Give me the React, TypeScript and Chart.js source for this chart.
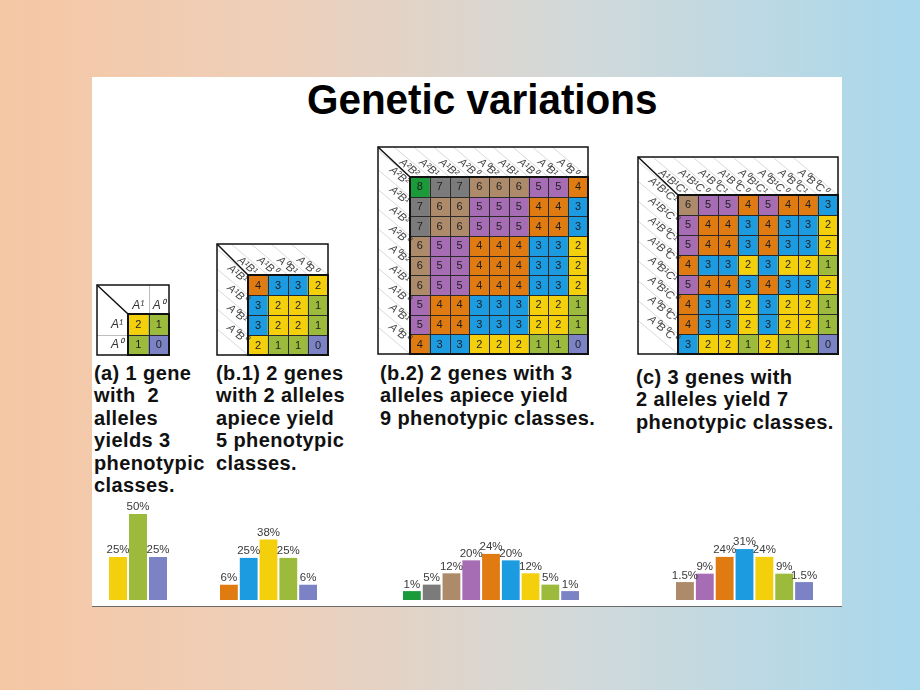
import React, { useEffect, useRef } from "react";
import { Chart, registerables } from "chart.js";
Chart.register(...registerables);

// ---------- colours per phenotypic class (number of "1/2" alleles) ----------
const CLASS_COLORS = [
  "#7b83c4", // 0 periwinkle
  "#9cba3c", // 1 olive
  "#f3cf0c", // 2 yellow
  "#1d9be0", // 3 blue
  "#e07b12", // 4 orange
  "#a66cb4", // 5 purple
  "#ad8b6a", // 6 tan
  "#7b7b7b", // 7 gray
  "#1b9a3a", // 8 green
];

// ---------- grid (a) ----------
const gridACols = ["A¹", "A⁰"];
const gridARows = ["A¹", "A⁰"];
const gridAValues = [
  [2, 1],
  [1, 0],
];

// ---------- grid (b.1) ----------
const gridB1Cols = ["A¹B¹", "A¹B⁰", "A⁰B¹", "A⁰B⁰"];
const gridB1Rows = ["A¹B¹", "A¹B⁰", "A⁰B¹", "A⁰B⁰"];
const gridB1Values = [
  [4, 3, 3, 2],
  [3, 2, 2, 1],
  [3, 2, 2, 1],
  [2, 1, 1, 0],
];

// ---------- grid (b.2) ----------
const gridB2Cols = ["A²B²", "A²B¹", "A¹B²", "A²B⁰", "A⁰B²", "A¹B¹", "A¹B⁰", "A⁰B¹", "A⁰B⁰"];
const gridB2Rows = ["A²B²", "A²B¹", "A¹B²", "A²B⁰", "A⁰B²", "A¹B¹", "A¹B⁰", "A⁰B¹", "A⁰B⁰"];
const gridB2Values = [
  [8, 7, 7, 6, 6, 6, 5, 5, 4],
  [7, 6, 6, 5, 5, 5, 4, 4, 3],
  [7, 6, 6, 5, 5, 5, 4, 4, 3],
  [6, 5, 5, 4, 4, 4, 3, 3, 2],
  [6, 5, 5, 4, 4, 4, 3, 3, 2],
  [6, 5, 5, 4, 4, 4, 3, 3, 2],
  [5, 4, 4, 3, 3, 3, 2, 2, 1],
  [5, 4, 4, 3, 3, 3, 2, 2, 1],
  [4, 3, 3, 2, 2, 2, 1, 1, 0],
];

// ---------- grid (c) ----------
const gridCCols = ["A¹B¹C¹", "A¹B¹C⁰", "A¹B⁰C¹", "A¹B⁰C⁰", "A⁰B¹C¹", "A⁰B¹C⁰", "A⁰B⁰C¹", "A⁰B⁰C⁰"];
const gridCRows = ["A¹B¹C¹", "A¹B¹C⁰", "A¹B⁰C¹", "A¹B⁰C⁰", "A⁰B¹C¹", "A⁰B¹C⁰", "A⁰B⁰C¹", "A⁰B⁰C⁰"];
const gridCValues = [
  [6, 5, 5, 4, 5, 4, 4, 3],
  [5, 4, 4, 3, 4, 3, 3, 2],
  [5, 4, 4, 3, 4, 3, 3, 2],
  [4, 3, 3, 2, 3, 2, 2, 1],
  [5, 4, 4, 3, 4, 3, 3, 2],
  [4, 3, 3, 2, 3, 2, 2, 1],
  [4, 3, 3, 2, 3, 2, 2, 1],
  [3, 2, 2, 1, 2, 1, 1, 0],
];

// ---------- distributions (bar charts) ----------
const barsAClasses = [2, 1, 0];
const barsAPercent = [25, 50, 25];

const barsB1Classes = [4, 3, 2, 1, 0];
const barsB1Percent = [6, 25, 38, 25, 6];

const barsB2Classes = [8, 7, 6, 5, 4, 3, 2, 1, 0];
const barsB2Percent = [1, 5, 12, 20, 24, 20, 12, 5, 1];

const barsCClasses = [6, 5, 4, 3, 2, 1, 0];
const barsCPercent = [1.5, 9, 24, 31, 24, 9, 1.5];

// ---------- captions ----------
const captionA = "(a) 1 gene\nwith  2\nalleles\nyields 3\nphenotypic\nclasses.";
const captionB1 = "(b.1) 2 genes\nwith 2 alleles\napiece yield\n5 phenotypic\nclasses.";
const captionB2 = "(b.2) 2 genes with 3\nalleles apiece yield\n9 phenotypic classes.";
const captionC = "(c) 3 genes with\n2 alleles yield 7\nphenotypic classes.";

const FONT = '"Liberation Sans", Arial, Helvetica, sans-serif';

type Box = { l: number; t: number; r: number; b: number; gl: number; gt: number };

function GridChart(props: {
  cols: string[];
  rows: string[];
  values: number[][];
  box: Box;
  upright?: boolean;
}) {
  const { cols, rows, values, box, upright } = props;
  const ref = useRef<HTMLCanvasElement>(null);
  const PAD = 3;
  const W = box.r - box.l + 2 * PAD;
  const H = box.b - box.t + 2 * PAD;

  useEffect(() => {
    const th = (40 * Math.PI) / 180;
    const deco = {
      id: "gridDeco",
      afterDatasetsDraw(chart: any) {
        const ctx = chart.ctx as CanvasRenderingContext2D;
        const a = chart.chartArea;
        const oL = PAD, oT = PAD, oR = chart.width - PAD, oB = chart.height - PAD;
        const gL = a.left, gT = a.top, gR = a.right, gB = a.bottom;
        const nC = cols.length, nR = rows.length;
        const cw = (gR - gL) / nC, rh = (gB - gT) / nR;
        ctx.save();
        ctx.fillStyle = "#ffffff";
        ctx.fillRect(oL, oT, oR - oL, gT - oT);
        ctx.fillRect(oL, oT, gL - oL, oB - oT);

        if (upright) {
          ctx.strokeStyle = "#bdbdbd";
          ctx.lineWidth = 1;
          for (let i = 1; i < nC; i++) {
            const xb = Math.round(gL + i * cw) + 0.5;
            ctx.beginPath(); ctx.moveTo(xb, oT); ctx.lineTo(xb, gT); ctx.stroke();
          }
          for (let j = 1; j < nR; j++) {
            const yb = Math.round(gT + j * rh) + 0.5;
            ctx.beginPath(); ctx.moveTo(oL, yb); ctx.lineTo(gL, yb); ctx.stroke();
          }
          ctx.fillStyle = "#333";
          ctx.font = "italic 12px " + FONT;
          ctx.textAlign = "center";
          ctx.textBaseline = "bottom";
          cols.forEach((c, i) => ctx.fillText(c, gL + (i + 0.5) * cw, gT - 2));
          ctx.textAlign = "right";
          ctx.textBaseline = "middle";
          rows.forEach((r, j) => ctx.fillText(r, gL - 5, gT + (j + 0.5) * rh));
        } else {
          // hatch lines in top band
          ctx.save();
          ctx.beginPath();
          ctx.moveTo(oL, oT); ctx.lineTo(oR, oT); ctx.lineTo(oR, gT); ctx.lineTo(gL, gT);
          ctx.closePath(); ctx.clip();
          ctx.strokeStyle = "#cfcfcf"; ctx.lineWidth = 0.8;
          for (let i = 0; i <= nC; i++) {
            const xb = gL + i * cw;
            ctx.beginPath(); ctx.moveTo(xb, gT); ctx.lineTo(xb - (gT - oT) / Math.tan(th), oT); ctx.stroke();
          }
          ctx.restore();
          // hatch lines in left band
          ctx.save();
          ctx.beginPath();
          ctx.moveTo(oL, oT); ctx.lineTo(gL, gT); ctx.lineTo(gL, oB); ctx.lineTo(oL, oB);
          ctx.closePath(); ctx.clip();
          ctx.strokeStyle = "#cfcfcf"; ctx.lineWidth = 0.8;
          for (let j = 0; j <= nR; j++) {
            const yb = gT + j * rh;
            ctx.beginPath(); ctx.moveTo(gL, yb); ctx.lineTo(oL, yb - (gL - oL) * Math.tan(th)); ctx.stroke();
          }
          ctx.restore();
          // labels
          ctx.fillStyle = "#444";
          ctx.font = "italic 11px " + FONT;
          ctx.textAlign = "right";
          ctx.textBaseline = "middle";
          cols.forEach((c, i) => {
            ctx.save();
            ctx.translate(gL + (i + 0.5) * cw, gT);
            ctx.rotate(th);
            ctx.fillText(c, -3, 0);
            ctx.restore();
          });
          rows.forEach((r, j) => {
            ctx.save();
            ctx.translate(gL, gT + (j + 0.5) * rh - 2);
            ctx.rotate(th);
            ctx.fillText(r, -3, 0);
            ctx.restore();
          });
        }

        // diagonal + outer frame
        ctx.strokeStyle = "#111";
        ctx.lineWidth = 1.5;
        ctx.beginPath(); ctx.moveTo(oL, oT); ctx.lineTo(gL, gT); ctx.stroke();
        ctx.strokeRect(oL, oT, oR - oL, oB - oT);

        // inner cell lines
        ctx.strokeStyle = "#2a2a2a";
        ctx.lineWidth = 1;
        for (let i = 1; i < nC; i++) {
          const xb = Math.round(gL + i * cw) + 0.5;
          ctx.beginPath(); ctx.moveTo(xb, gT); ctx.lineTo(xb, gB); ctx.stroke();
        }
        for (let j = 1; j < nR; j++) {
          const yb = Math.round(gT + j * rh) + 0.5;
          ctx.beginPath(); ctx.moveTo(gL, yb); ctx.lineTo(gR, yb); ctx.stroke();
        }
        ctx.strokeStyle = "#111";
        ctx.lineWidth = 2;
        ctx.strokeRect(gL, gT, gR - gL, gB - gT);

        // numbers
        ctx.fillStyle = "#1e1e1e";
        ctx.font = "11px " + FONT;
        ctx.textAlign = "center";
        ctx.textBaseline = "middle";
        chart.data.datasets.forEach((_ds: any, ri: number) => {
          const meta = chart.getDatasetMeta(ri);
          meta.data.forEach((el: any, ci: number) => {
            ctx.fillText(String(values[ri][ci]), el.x, (el.y + el.base) / 2 + 0.5);
          });
        });
        ctx.restore();
      },
    };

    const chart = new Chart(ref.current as HTMLCanvasElement, {
      type: "bar",
      data: {
        labels: cols,
        datasets: rows.map((r, ri) => ({
          label: r,
          data: cols.map(() => 1),
          backgroundColor: values[ri].map((v) => CLASS_COLORS[v]),
          borderWidth: 0,
          barPercentage: 1,
          categoryPercentage: 1,
        })),
      },
      options: {
        animation: false,
        responsive: false,
        maintainAspectRatio: false,
        events: [],
        layout: {
          padding: {
            left: box.gl - box.l + PAD,
            top: box.gt - box.t + PAD,
            right: PAD,
            bottom: PAD,
          },
        },
        plugins: { legend: { display: false }, tooltip: { enabled: false }, title: { display: false } },
        scales: {
          x: { display: false, stacked: true },
          y: { display: false, stacked: true, min: 0, max: rows.length, reverse: true },
        },
      },
      plugins: [deco],
    } as any);
    return () => chart.destroy();
  }, []);

  return (
    <canvas
      ref={ref}
      width={W}
      height={H}
      style={{ position: "absolute", left: box.l - PAD, top: box.t - PAD, width: W, height: H }}
    />
  );
}

function BarChart(props: {
  classes: number[];
  percent: number[];
  left: number;
  width: number;
  pxPerUnit: number;
  baseOffset: number;
}) {
  const { classes, percent, left, width, pxPerUnit, baseOffset } = props;
  const ref = useRef<HTMLCanvasElement>(null);
  const TOP = 495;
  const H = 105;
  const SIDE = 16;
  const CW = width + 2 * SIDE;
  useEffect(() => {
    const labelPlugin = {
      id: "pctLabels",
      afterDatasetsDraw(chart: any) {
        const ctx = chart.ctx as CanvasRenderingContext2D;
        const meta = chart.getDatasetMeta(0);
        ctx.save();
        ctx.font = "11.5px " + FONT;
        ctx.fillStyle = "#3a3a3a";
        ctx.textAlign = "center";
        ctx.textBaseline = "bottom";
        meta.data.forEach((el: any, i: number) => {
          ctx.fillText(percent[i] + "%", el.x, el.y - 1);
        });
        ctx.restore();
      },
    };
    const chart = new Chart(ref.current as HTMLCanvasElement, {
      type: "bar",
      data: {
        labels: classes.map(String),
        datasets: [
          {
            data: percent,
            backgroundColor: classes.map((c) => CLASS_COLORS[c]),
            borderWidth: 0,
            base: -baseOffset,
            barPercentage: 0.9,
            categoryPercentage: 1,
          },
        ],
      },
      options: {
        animation: false,
        responsive: false,
        maintainAspectRatio: false,
        events: [],
        layout: { padding: { left: SIDE, right: SIDE, top: 0, bottom: 0 } },
        plugins: { legend: { display: false }, tooltip: { enabled: false } },
        scales: {
          x: { display: false },
          y: { display: false, min: -baseOffset, max: H / pxPerUnit - baseOffset },
        },
      },
      plugins: [labelPlugin],
    } as any);
    return () => chart.destroy();
  }, []);
  return (
    <canvas
      ref={ref}
      width={CW}
      height={H}
      style={{ position: "absolute", left: left - SIDE, top: TOP, width: CW, height: H }}
    />
  );
}

function Caption({ text, left, top }: { text: string; left: number; top: number }) {
  return (
    <div
      style={{
        position: "absolute",
        left,
        top,
        whiteSpace: "pre",
        fontFamily: FONT,
        fontWeight: "bold",
        fontSize: 20,
        letterSpacing: "0.4px",
        lineHeight: "22.4px",
        color: "#111",
      }}
    >
      {text}
    </div>
  );
}

export default function App() {
  useEffect(() => {
    document.body.style.margin = "0";
  }, []);
  return (
    <div
      style={{
        position: "absolute",
        left: 0,
        top: 0,
        width: 920,
        height: 690,
        overflow: "hidden",
        background: "linear-gradient(90deg, #f5c7a4 0%, #eecfb9 30%, #d3d9d9 62%, #a9d8ec 100%)",
      }}
    >
      <div
        style={{
          position: "absolute",
          left: 92,
          top: 77,
          width: 750,
          height: 529,
          background: "#ffffff",
          borderBottom: "1px solid #6a6a6a",
        }}
      />
      <div
        style={{
          position: "absolute",
          left: 307,
          top: 78,
          fontFamily: FONT,
          fontWeight: "bold",
          fontSize: 43,
          lineHeight: "43px",
          whiteSpace: "nowrap",
          color: "#000",
          transform: "scaleX(0.94)",
          transformOrigin: "left top",
        }}
      >
        Genetic variations
      </div>

      <GridChart cols={gridACols} rows={gridARows} values={gridAValues} upright
        box={{ l: 97, t: 285, r: 169, b: 355, gl: 128, gt: 314 }} />
      <GridChart cols={gridB1Cols} rows={gridB1Rows} values={gridB1Values}
        box={{ l: 217, t: 244, r: 328, b: 355, gl: 248, gt: 275 }} />
      <GridChart cols={gridB2Cols} rows={gridB2Rows} values={gridB2Values}
        box={{ l: 378, t: 147, r: 588, b: 354, gl: 410, gt: 177 }} />
      <GridChart cols={gridCCols} rows={gridCRows} values={gridCValues}
        box={{ l: 638, t: 157, r: 838, b: 354, gl: 678, gt: 195 }} />

      <Caption text={captionA} left={94} top={362} />
      <Caption text={captionB1} left={216} top={362} />
      <Caption text={captionB2} left={380} top={362} />
      <Caption text={captionC} left={636} top={366} />

      <BarChart classes={barsAClasses} percent={barsAPercent} left={108} width={60} pxPerUnit={1.72} baseOffset={0} />
      <BarChart classes={barsB1Classes} percent={barsB1Percent} left={219} width={99} pxPerUnit={1.413} baseOffset={4.8} />
      <BarChart classes={barsB2Classes} percent={barsB2Percent} left={402} width={178} pxPerUnit={1.618} baseOffset={4.5} />
      <BarChart classes={barsCClasses} percent={barsCPercent} left={675} width={139} pxPerUnit={1.12} baseOffset={14.5} />
    </div>
  );
}
